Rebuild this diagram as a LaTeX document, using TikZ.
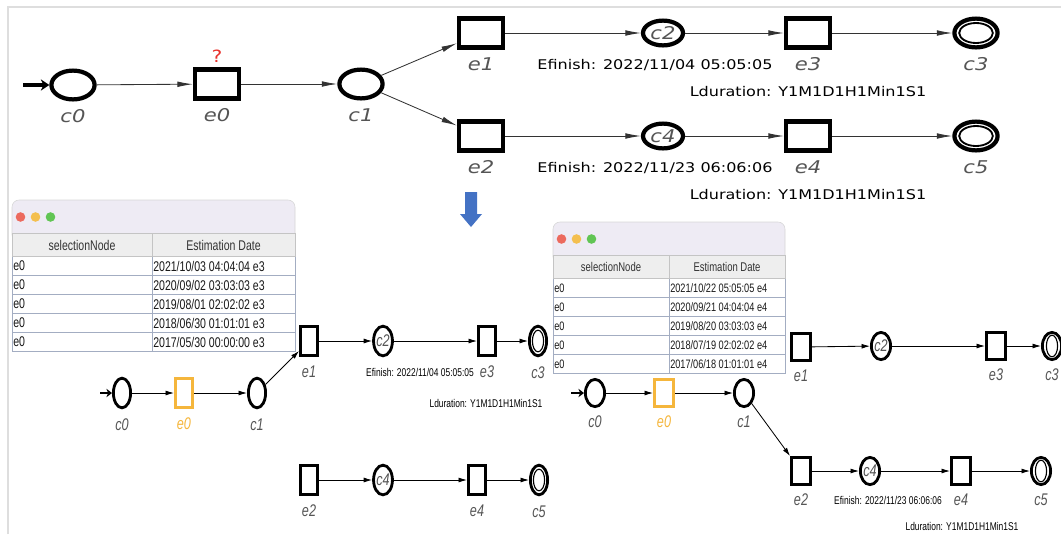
\documentclass[tikz,border=0pt]{standalone}
\usepackage{fontspec}
\setmainfont{DejaVu Sans}
\newfontfamily\topfont[FakeStretch=1.2]{DejaVu Sans}
\newfontfamily\lowfont[FakeStretch=0.75]{Liberation Sans}
\usetikzlibrary{arrows.meta,shapes.geometric,positioning}

\definecolor{lblgray}{HTML}{555555}
\definecolor{selorange}{HTML}{F5B63C}
\definecolor{hintred}{HTML}{E8312B}
\definecolor{flowblue}{HTML}{4472C4}
\definecolor{framegray}{HTML}{DEDEDE}
\definecolor{titlebg}{HTML}{EEEBF4}
\definecolor{headbg}{HTML}{EEEEEE}
\definecolor{gridgray}{HTML}{C4C4C4}
\definecolor{rowblue}{HTML}{A3ADC2}
\definecolor{dotred}{HTML}{EC6A5E}
\definecolor{dotyellow}{HTML}{F4BF4F}
\definecolor{dotgreen}{HTML}{61C554}

\tikzset{
  % big automaton on top
  cond/.style={ellipse,draw,line width=3pt,inner sep=0pt,minimum width=1.08cm,minimum height=0.72cm},
  cmid/.style={cond,minimum width=1cm,minimum height=0.62cm,font=\topfont\itshape\fontsize{12.5}{14}\selectfont,text=lblgray},
  endc/.style={cond,path picture={\draw[line width=1.3pt] (path picture bounding box.center) ellipse (0.42cm and 0.25cm);}},
  evt/.style={rectangle,draw,line width=3pt,inner sep=0pt,minimum width=1.1cm,minimum height=0.72cm},
  edge/.style={-{Latex[length=11pt,width=4pt]},line width=0.6pt,draw=black!80},
  init/.style={-{Stealth[length=6pt,width=8pt]},line width=2.4pt},
  biglbl/.style={font=\topfont\itshape\fontsize{12.5}{14}\selectfont,text=lblgray},
  topnote/.style={font=\topfont\fontsize{9.5}{11}\selectfont},
  % narrow automata under the tables
  scond/.style={ellipse,draw,line width=2pt,inner sep=0pt,minimum width=0.43cm,minimum height=0.74cm},
  smid/.style={scond,font=\lowfont\itshape\fontsize{12}{14}\selectfont,text=lblgray},
  send/.style={scond,path picture={\draw[line width=0.8pt] (path picture bounding box.center) ellipse (0.14cm and 0.27cm);}},
  sevt/.style={rectangle,draw,line width=2pt,inner sep=0pt,minimum width=0.43cm,minimum height=0.72cm},
  sedge/.style={-{Latex[length=6pt,width=3.5pt]},line width=0.6pt},
  sinit/.style={-{Stealth[length=4pt,width=6pt]},line width=1.8pt},
  smalllbl/.style={font=\lowfont\itshape\fontsize{12}{14}\selectfont,text=lblgray},
  lownote/.style={font=\lowfont\fontsize{8}{9}\selectfont},
  % estimation tables
  headtxt/.style={font=\lowfont\fontsize{10}{12}\selectfont,text=black!80,inner sep=0pt},
  celltxt/.style={font=\lowfont\fontsize{10}{12}\selectfont,text=black!90,inner sep=0pt,anchor=west},
}

% [#1] extra options, #2 prefix, #3 x, #4 y, #5 width, #6 column split, #7 dates
\newcommand{\estwin}[7][]{%
  \begin{scope}[shift={(#3,#4)},#1]
    \fill[titlebg,draw=gridgray!70,line width=0.4pt,rounded corners=5pt] (0,0) rectangle (#5,42);
    \fill[dotred] (8.5,17) circle (0.12cm);
    \fill[dotyellow] (23.5,17) circle (0.12cm);
    \fill[dotgreen] (38.5,17) circle (0.12cm);
    \fill[headbg] (0,33) rectangle (#5,56.5);
    \draw[gridgray] (0,33) rectangle (#5,56.5) (#6,33) -- (#6,56.5);
    \node[headtxt] (#2hd1) at (#6/2,45) {selectionNode};
    \node[headtxt] (#2hd2) at ({(#6+#5)/2},45) {Estimation Date};
    \fill[white] (0,56.5) rectangle (#5,151.5);
    \foreach \dt [count=\i] in {#7} {
      \draw[rowblue] (0,56.5+19*\i) -- (#5,56.5+19*\i);
      \node[celltxt] (#2s\i) at (1,47+19*\i) {e0};
      \node[celltxt] (#2d\i) at (#6+1,47+19*\i) {\dt};
    }
    \draw[rowblue] (0,56.5) -- (0,151.5) (#6,56.5) -- (#6,151.5) (#5,56.5) -- (#5,151.5);
  \end{scope}}

\begin{document}
\begin{tikzpicture}[x=0.025cm,y=-0.025cm]
  \useasboundingbox (0,0) rectangle (1061,534);
  \clip (0,0) rectangle (1061,534);
  \draw[framegray,line width=1.5pt] (8,534) -- (8,7) -- (1061,7);

  % top automaton
  \node[cond,label={[biglbl,label distance=2pt]below:c0}] (c0) at (73,85) {};
  \node[evt,label={[biglbl,label distance=2pt]below:e0},
        label={[text=hintred,font=\topfont\fontsize{12}{14}\selectfont]above:?}] (e0) at (217,84) {};
  \node[cond,label={[biglbl,label distance=2pt]below:c1}] (c1) at (361,84) {};
  \node[evt,label={[biglbl,label distance=2pt]below:e1}] (e1) at (481,33) {};
  \node[evt,label={[biglbl,label distance=2pt]below:e2}] (e2) at (481,136) {};
  \node[cmid] (c2) at (663,33) {c2};
  \node[evt,label={[biglbl,label distance=2pt]below:e3}] (e3) at (808,33) {};
  \node[endc,label={[biglbl,label distance=2pt]below:c3}] (c3) at (976,33) {};
  \node[cmid] (c4) at (663,136) {c4};
  \node[evt,label={[biglbl,label distance=2pt]below:e4}] (e4) at (808,136) {};
  \node[endc,label={[biglbl,label distance=2pt]below:c5}] (c5) at (976,136) {};
  \node[topnote] (fin1) at (655,65) {Efinish: 2022/11/04 05:05:05};
  \node[topnote] (dur1) at (808,92) {Lduration: Y1M1D1H1Min1S1};
  \node[topnote] (fin2) at (655,168) {Efinish: 2022/11/23 06:06:06};
  \node[topnote] (dur2) at (808,195) {Lduration: Y1M1D1H1Min1S1};

  \coordinate (start) at (23,85);
  \draw[init] (start) -- (c0);
  \foreach \a/\b in {c0/e0,e0/c1,c1/e1,c1/e2,e1/c2,c2/e3,e3/c3,e2/c4,c4/e4,e4/c5}
    \draw[edge] (\a) -- (\b);

  % block arrow down
  \fill[flowblue] (465,192) -- (477,192) -- (477,214) -- (482,214) -- (471,227)
    -- (460,214) -- (465,214) -- cycle;

  % tables
  \estwin{lt}{12}{200}{283}{140}{2021/10/03 04:04:04 e3, 2020/09/02 03:03:03 e3,
    2019/08/01 02:02:02 e3, 2018/06/30 01:01:01 e3, 2017/05/30 00:00:00 e3}
  \estwin[celltxt/.append style={font=\lowfont\fontsize{8.7}{10}\selectfont},
          headtxt/.append style={font=\lowfont\fontsize{9}{10}\selectfont}]
    {rt}{553}{222}{232}{116}{2021/10/22 05:05:05 e4, 2020/09/21 04:04:04 e4,
    2019/08/20 03:03:03 e4, 2018/07/19 02:02:02 e4, 2017/06/18 01:01:01 e4}

  % left run: e0 leads to e3
  \node[scond,label={[smalllbl,label distance=3pt]below:c0}] (lc0) at (122,393) {};
  \node[sevt,draw=selorange,label={[smalllbl,text=selorange,label distance=3pt]below:e0}] (le0) at (184,393) {};
  \node[scond,label={[smalllbl,label distance=3pt]below:c1}] (lc1) at (257,393) {};
  \node[sevt,label={[smalllbl,label distance=3pt]below:e1}] (le1) at (309,341) {};
  \node[smid] (lc2) at (383,341) {c2};
  \node[sevt,label={[smalllbl,label distance=3pt]below:e3}] (le3) at (487,341) {};
  \node[send,label={[smalllbl,label distance=3pt]below:c3}] (lc3) at (538,341) {};
  \node[sevt,label={[smalllbl,label distance=3pt]below:e2}] (le2) at (309,480) {};
  \node[smid] (lc4) at (383,480) {c4};
  \node[sevt,label={[smalllbl,label distance=3pt]below:e4}] (le4) at (477,480) {};
  \node[send,label={[smalllbl,label distance=3pt]below:c5}] (lc5) at (539,480) {};
  \node[lownote] (lfin) at (420,372) {Efinish: 2022/11/04 05:05:05};
  \node[lownote] (ldur) at (486,403) {Lduration: Y1M1D1H1Min1S1};

  \coordinate (lstart) at (100,393);
  \draw[sinit] (lstart) -- (lc0);
  \foreach \a/\b in {lc0/le0,le0/lc1,lc1/le1,le1/lc2,lc2/le3,le3/lc3,le2/lc4,lc4/le4,le4/lc5}
    \draw[sedge] (\a) -- (\b);

  % right run: e0 leads to e4
  \begin{scope}[scond/.append style={minimum width=0.48cm,minimum height=0.68cm},
                sevt/.append style={minimum width=0.48cm,minimum height=0.68cm}]
  \node[scond,label={[smalllbl,label distance=2pt]below:c0}] (rc0) at (595,393) {};
  \node[sevt,draw=selorange,label={[smalllbl,text=selorange,label distance=2pt]below:e0}] (re0) at (664,393) {};
  \node[scond,label={[smalllbl,label distance=2pt]below:c1}] (rc1) at (744,393) {};
  \node[sevt,label={[smalllbl,label distance=2pt]below:e1}] (re1) at (801,347) {};
  \node[smid] (rc2) at (881,346) {c2};
  \node[sevt,label={[smalllbl,label distance=2pt]below:e3}] (re3) at (996,346) {};
  \node[send,label={[smalllbl,label distance=2pt]below:c3}] (rc3) at (1052,346) {};
  \node[sevt,label={[smalllbl,label distance=2pt]below:e2}] (re2) at (801,471) {};
  \node[smid] (rc4) at (870,471) {c4};
  \node[sevt,label={[smalllbl,label distance=2pt]below:e4}] (re4) at (961,471) {};
  \node[send,label={[smalllbl,label distance=2pt]below:c5}] (rc5) at (1041,471) {};
  \end{scope}
  \node[lownote] (rfin) at (888,500) {Efinish: 2022/11/23 06:06:06};
  \node[lownote] (rdur) at (962,526) {Lduration: Y1M1D1H1Min1S1};

  \coordinate (rstart) at (571,393);
  \draw[sinit] (rstart) -- (rc0);
  \foreach \a/\b in {rc0/re0,re0/rc1,rc1/re2,re1/rc2,rc2/re3,re3/rc3,re2/rc4,rc4/re4,re4/rc5}
    \draw[sedge] (\a) -- (\b);
\end{tikzpicture}
\end{document}
